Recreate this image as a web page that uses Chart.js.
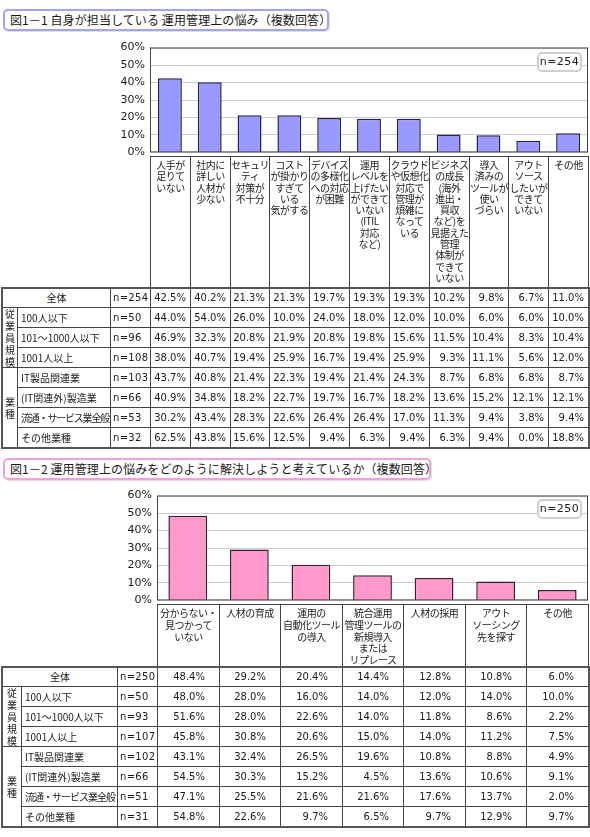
<!DOCTYPE html>
<html><head><meta charset="utf-8">
<script src="https://cdn.jsdelivr.net/npm/chart.js@4/dist/chart.umd.min.js"></script>
<style>
body{margin:0;background:#fff;width:590px;height:837px;position:relative;overflow:hidden;font-family:"DejaVu Sans","Noto Sans CJK JP",sans-serif;color:#1a1a1a}
.cell{position:absolute;box-sizing:border-box;border:1px solid #444;font-size:10px;white-space:nowrap;display:flex;align-items:center;overflow:visible}
.cat{align-items:flex-start;justify-content:center;text-align:center;padding-top:2px;font-family:"Noto Sans CJK JP","DejaVu Sans",sans-serif;letter-spacing:-0.5px}
.rl{padding-left:3px;font-family:"Noto Sans CJK JP","DejaVu Sans",sans-serif}
.grp{justify-content:center;text-align:center;line-height:12px;font-family:"Noto Sans CJK JP",sans-serif}
.num{justify-content:flex-end}
.title{position:absolute;box-sizing:border-box;height:22px;border-radius:5px;font-family:"Noto Sans CJK JP","DejaVu Sans",sans-serif;font-size:12px;line-height:18px;padding-left:5px;white-space:nowrap;box-shadow:1px 1px 1px #ddd;letter-spacing:0.1px}
.nbox{position:absolute;box-sizing:border-box;width:45px;height:20px;border:2px solid #cfcfcf;border-radius:5px;font-size:11px;line-height:16px;text-align:center;letter-spacing:0.5px;background:#fff}
canvas{position:absolute;left:0}
</style></head>
<body>
<div class="title" style="left:3px;top:9px;width:326px;border:2px solid #a3a3f2">図1－1 自身が担当している 運用管理上の悩み（複数回答）</div>
<div class="title" style="left:3px;top:458px;width:428px;border:2px solid #f2a3d6">図1－2 運用管理上の悩みをどのように解決しようと考えているか（複数回答）</div>
<canvas id="c1" width="590" height="128" style="top:36px"></canvas>
<canvas id="c2" width="590" height="128" style="top:484px"></canvas>
<div class="nbox" style="left:537px;top:52px">n=254</div>
<div class="nbox" style="left:537px;top:499px">n=250</div>
<script>
// ---------- data ----------
const cats1 = [
 ["人手が","足りて","いない"],
 ["社内に","詳しい","人材が","少ない"],
 ["セキュリ","ティ","対策が","不十分"],
 ["コスト","が掛かり","すぎて","いる","気がする"],
 ["デバイス","の多様化","への対応","が困難"],
 ["運用","レベルを","上げたい","ができて","いない","(ITIL","対応","など)"],
 ["クラウド","や仮想化","対応で","管理が","煩雑に","なって","いる"],
 ["ビジネス","の成長","(海外","進出・","買収","など)を","見据えた","管理","体制が","できて","いない"],
 ["導入","済みの","ツールが","使い","づらい"],
 ["アウト","ソース","したいが","できて","いない"],
 ["その他"]
];
const cats2 = [
 ["分からない・","見つかって","いない"],
 ["人材の育成"],
 ["運用の","自動化ツール","の導入"],
 ["統合運用","管理ツールの","新規導入","または","リプレース"],
 ["人材の採用"],
 ["アウト","ソーシング","先を探す"],
 ["その他"]
];
const rowLabels = ["全体","100人以下","101～1000人以下","1001人以上","IT製品関連業","(IT関連外)製造業","流通・サービス業全般","その他業種"];
const groupLabels = ["従業員規模","業種"];
const n1 = [254,50,96,108,103,66,53,32];
const n2 = [250,50,93,107,102,66,51,31];
const table1 = [
 [42.5,40.2,21.3,21.3,19.7,19.3,19.3,10.2,9.8,6.7,11.0],
 [44.0,54.0,26.0,10.0,24.0,18.0,12.0,10.0,6.0,6.0,10.0],
 [46.9,32.3,20.8,21.9,20.8,19.8,15.6,11.5,10.4,8.3,10.4],
 [38.0,40.7,19.4,25.9,16.7,19.4,25.9,9.3,11.1,5.6,12.0],
 [43.7,40.8,21.4,22.3,19.4,21.4,24.3,8.7,6.8,6.8,8.7],
 [40.9,34.8,18.2,22.7,19.7,16.7,18.2,13.6,15.2,12.1,12.1],
 [30.2,43.4,28.3,22.6,26.4,26.4,17.0,11.3,9.4,3.8,9.4],
 [62.5,43.8,15.6,12.5,9.4,6.3,9.4,6.3,9.4,0.0,18.8]
];
const table2 = [
 [48.4,29.2,20.4,14.4,12.8,10.8,6.0],
 [48.0,28.0,16.0,14.0,12.0,14.0,10.0],
 [51.6,28.0,22.6,14.0,11.8,8.6,2.2],
 [45.8,30.8,20.6,15.0,14.0,11.2,7.5],
 [43.1,32.4,26.5,19.6,10.8,8.8,4.9],
 [54.5,30.3,15.2,4.5,13.6,10.6,9.1],
 [47.1,25.5,21.6,21.6,17.6,13.7,2.0],
 [54.8,22.6,9.7,6.5,9.7,12.9,9.7]
];
const yMax = 60, yStep = 10;

// ---------- charts ----------
const framePlugin = {id:'frame', afterDatasetsDraw(chart){
  const {ctx, chartArea:a} = chart;
  ctx.save(); ctx.strokeStyle='#444'; ctx.lineWidth=1;
  ctx.strokeRect(a.left+0.5, a.top+0.5, a.right-a.left-1, a.bottom-a.top-1);
  ctx.restore();
}};
function makeChart(id, cats, values, color, border, barPct, yWidth){
  return new Chart(document.getElementById(id), {
    type:'bar',
    data:{labels:cats.map(c=>c.join('')), datasets:[{data:values, backgroundColor:color, borderColor:border, borderWidth:1.5, borderSkipped:'bottom', barPercentage:barPct, categoryPercentage:1}]},
    options:{responsive:false, animation:false, devicePixelRatio:1,
      layout:{padding:{top:7,bottom:7,left:0,right:2}},
      plugins:{legend:{display:false}, tooltip:{enabled:false}},
      scales:{
        x:{display:false, offset:true},
        y:{min:0, max:yMax, afterFit:s=>{s.width=yWidth;},
           ticks:{stepSize:yStep, callback:v=>v+'%', color:'#1a1a1a', font:{family:'DejaVu Sans', size:11}, padding:5},
           grid:{color:'#cdcdcd', drawTicks:false}, border:{display:false}}
      }},
    plugins:[framePlugin]
  });
}
makeChart('c1', cats1, table1[0], '#9999ff', '#22224a', 0.6, 150);
makeChart('c2', cats2, table2[0], '#ff99cc', '#3a1f2e', 0.63, 157);

// ---------- tables ----------
function cell(x0,y0,x1,y1,cls,html,style){
  const d=document.createElement('div');
  d.className='cell '+(cls||'');
  d.style.left=x0+'px'; d.style.top=y0+'px';
  d.style.width=(x1-x0+1)+'px'; d.style.height=(y1-y0+1)+'px';
  if(style) Object.assign(d.style, style);
  d.innerHTML=html;
  document.body.appendChild(d);
  return d;
}
function fit(el, maxW){
  const sp = el.querySelector('span'); if(!sp) return;
  let ls=0;
  while(sp.offsetWidth>maxW && ls>-3){ ls-=0.2; sp.style.letterSpacing=ls+'px'; }
}
function buildTable(g, cats, ns, data, padRight){
  const nc = cats.length;
  const xs = []; for(let j=0;j<=nc;j++) xs.push(Math.round(g.xN + j*(g.xR-g.xN)/nc));
  cats.forEach((c,j)=>cell(xs[j], g.labelTop, xs[j+1], g.rowTop, 'cat', c.join('<br>'), {lineHeight:g.lineH+'px'}));
  data.forEach((row,i)=>{
    const y0=g.rowTop+i*g.rowH, y1=y0+g.rowH;
    if(i===0){
      cell(g.x0, y0, g.xLabel, y1, 'rl', '<span>'+rowLabels[i]+'</span>', {justifyContent:'center', paddingLeft:'0'});
    } else {
      const el = cell(g.xGroup, y0, g.xLabel, y1, 'rl', '<span>'+rowLabels[i]+'</span>');
      fit(el, g.xLabel-g.xGroup-5);
    }
    cell(g.xLabel, y0, g.xN, y1, '', 'n='+ns[i], {paddingLeft:'2px', letterSpacing:'0.3px'});
    row.forEach((v,j)=>cell(xs[j], y0, xs[j+1], y1, 'num', v.toFixed(1)+'%', {paddingRight:padRight+'px'}));
  });
  const yA=g.rowTop+g.rowH, yB=g.rowTop+4*g.rowH, yC=g.rowTop+8*g.rowH;
  cell(g.x0, yA, g.xGroup, yB, 'grp', groupLabels[0].split('').join('<br>'));
  cell(g.x0, yB, g.xGroup, yC, 'grp', groupLabels[1].split('').join('<br>'));
  const f=document.createElement('div');
  Object.assign(f.style,{position:'absolute',left:(g.x0-1)+'px',top:g.rowTop+'px',width:(g.xR-g.x0+3)+'px',height:(8*g.rowH+2)+'px',border:'2px solid #555',boxSizing:'border-box',pointerEvents:'none'});
  document.body.appendChild(f);
}
buildTable({x0:2,xGroup:17,xLabel:110,xN:150,xR:588,labelTop:156,rowTop:287,rowH:20,lineH:11.3}, cats1, n1, table1, 4);
buildTable({x0:2,xGroup:21,xLabel:117,xN:157,xR:588,labelTop:604,rowTop:666,rowH:20,lineH:11.8}, cats2, n2, table2, 14);
</script>
</body></html>
